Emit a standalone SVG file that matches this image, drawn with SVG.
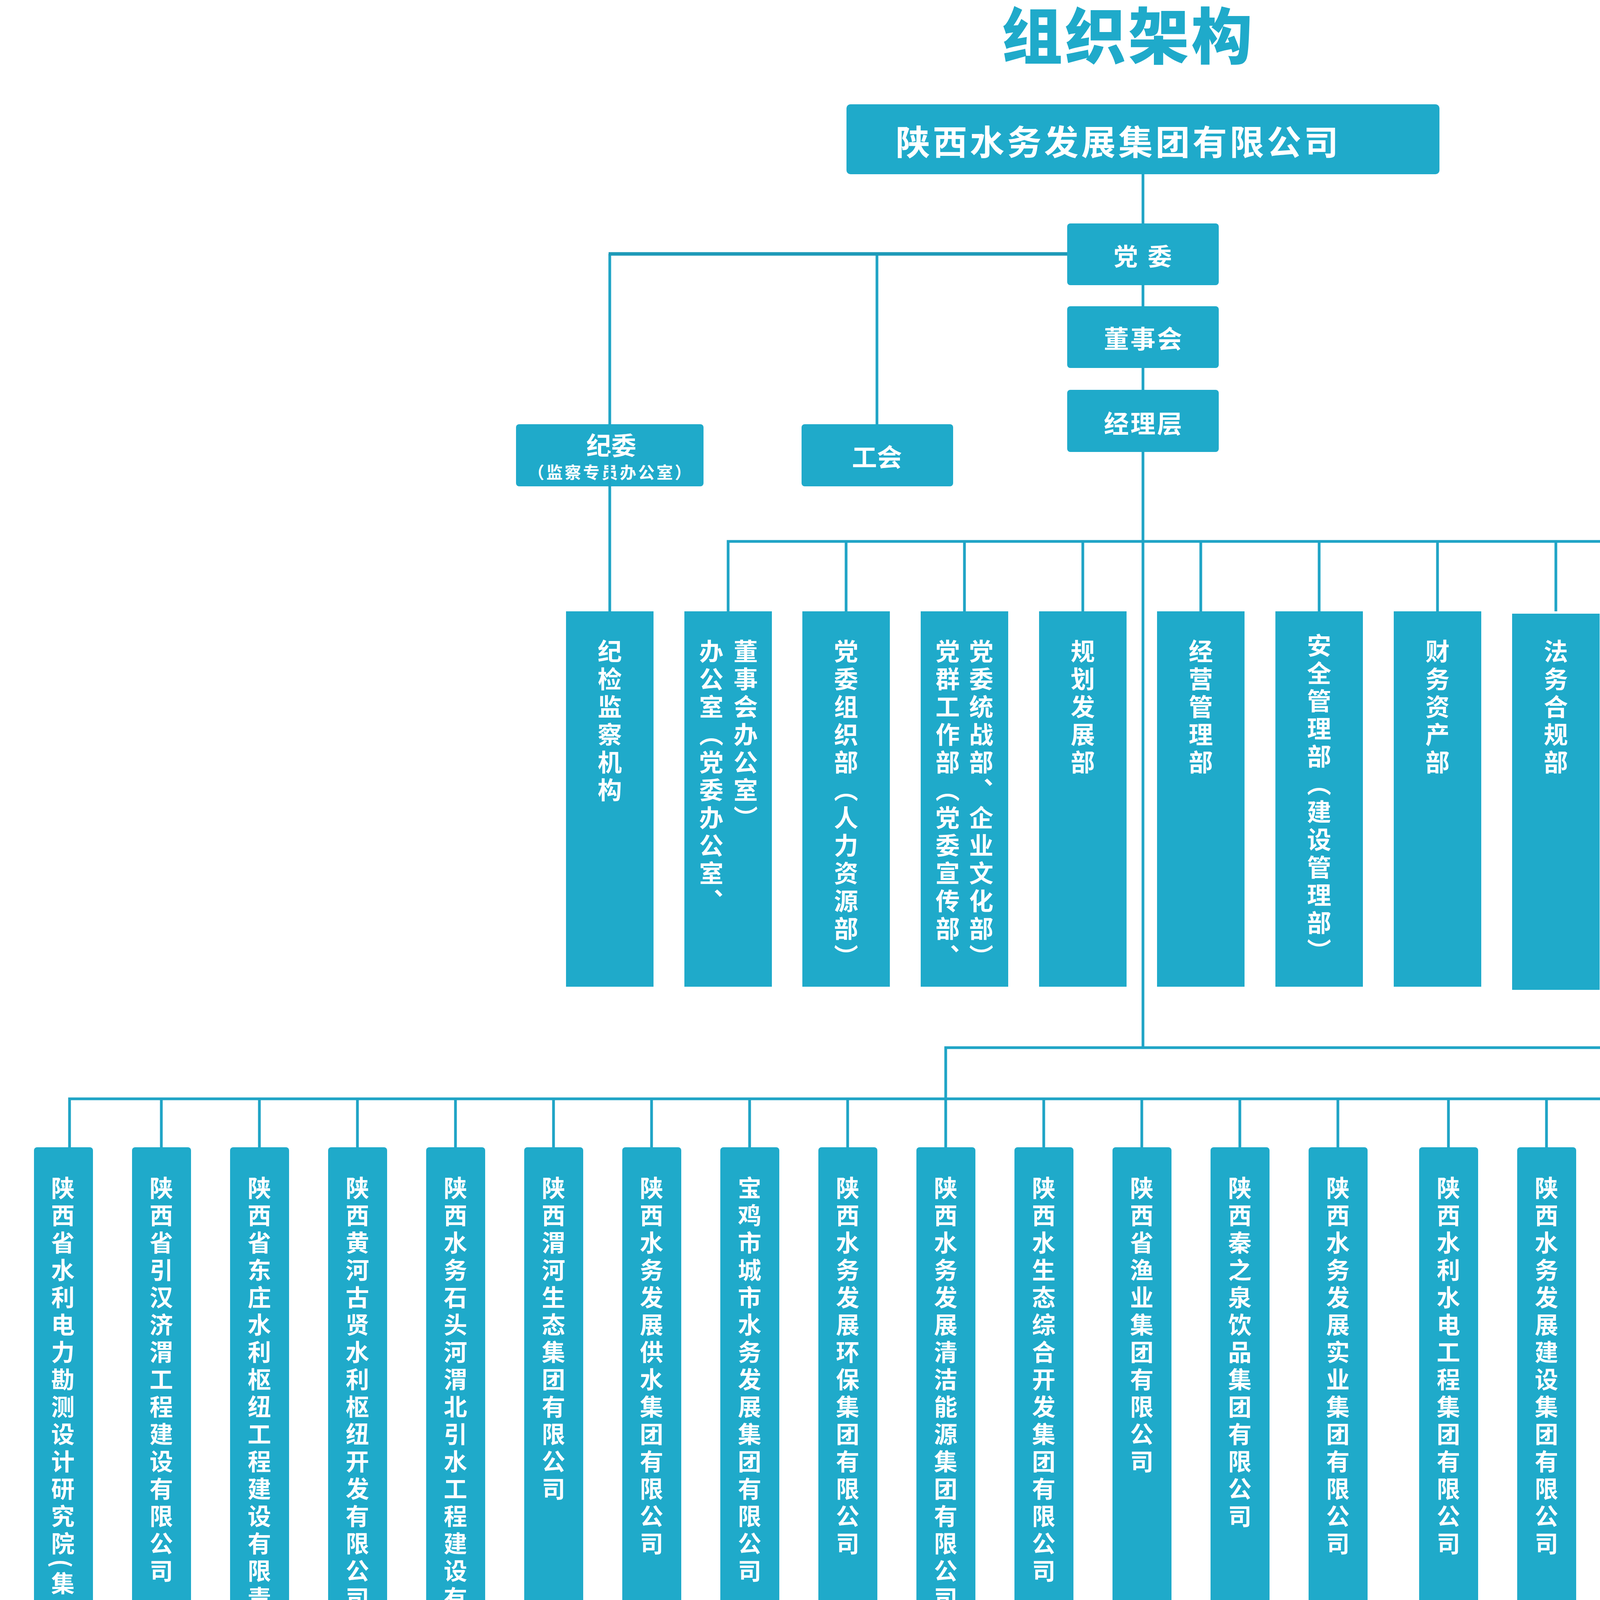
<svg xmlns="http://www.w3.org/2000/svg" width="6041" height="4724" viewBox="0 0 6041 4724">
<style>
.bx{fill:#1faaca}
.t{font-family:"Noto Sans CJK SC","Noto Sans",sans-serif;fill:#fff;font-weight:700}
.h{text-anchor:middle;dominant-baseline:central}
.v{writing-mode:vertical-rl;text-anchor:start}
.dp{font-size:62px;letter-spacing:9px}
.co{font-size:60px;letter-spacing:10px}
.br{font-size:61px;letter-spacing:10px;font-weight:500}
.pl{font-size:62px;letter-spacing:2px}
.ln{stroke:#1fa4c6;stroke-width:7;fill:none}
.bar{stroke:#1fa4c6;stroke-width:10;fill:none}
</style>
<text x="2888" y="150" text-anchor="middle" style="font-family:'Noto Sans CJK SC',sans-serif;font-weight:900;font-size:156px;letter-spacing:6px;fill:#1faaca">组织架构</text>

<g id="n-top"><rect class="bx" x="2167" y="267" width="1518" height="179" rx="10"/><text class="t" x="2293" y="357" style="font-size:88px;letter-spacing:7px;dominant-baseline:central">陕西水务发展集团有限公司</text></g>
<g id="n-dangwei"><rect class="bx" x="2732" y="572" width="388" height="158" rx="8"/><text class="t h" x="2938" y="653" style="font-size:62px;letter-spacing:25px">党委</text></g>
<g id="n-dongshihui"><rect class="bx" x="2732" y="784" width="388" height="158" rx="8"/><text class="t h" x="2928" y="863" style="font-size:64px;letter-spacing:4px">董事会</text></g>
<g id="n-jinglice"><rect class="bx" x="2732" y="998" width="388" height="159" rx="8"/><text class="t h" x="2928" y="1080" style="font-size:64px;letter-spacing:4px">经理层</text></g>
<g id="n-jiwei"><rect class="bx" x="1321" y="1086" width="480" height="159" rx="8"/><text class="t h" x="1565" y="1136" style="font-size:64px">纪委</text><text class="t h" x="1563" y="1206" style="font-size:42px;letter-spacing:5px">（监察专员办公室）</text></g>
<g id="n-gonghui"><rect class="bx" x="2052" y="1086" width="388" height="159" rx="8"/><text class="t h" x="2245" y="1166" style="font-size:64px">工会</text></g>

<g id="n-d1"><rect class="bx" x="1449" y="1565" width="224" height="961"/><text class="t v dp" x="1561" y="1636">纪检监察机构</text></g>
<g id="n-d2"><rect class="bx" x="1752" y="1565" width="224" height="961"/><text class="t v dp" x="1821" y="1636">办公室（党委办公室、</text><text class="t v dp" x="1909" y="1636">董事会办公室）</text></g>
<g id="n-d3"><rect class="bx" x="2054" y="1565" width="224" height="961"/><text class="t v dp" x="2166" y="1636">党委组织部（人力资源部）</text></g>
<g id="n-d4"><rect class="bx" x="2357" y="1565" width="224" height="961"/><text class="t v dp" x="2426" y="1636">党群工作部（党委宣传部、</text><text class="t v dp" x="2512" y="1636">党委统战部、企业文化部）</text></g>
<g id="n-d5"><rect class="bx" x="2660" y="1565" width="224" height="961"/><text class="t v dp" x="2772" y="1636">规划发展部</text></g>
<g id="n-d6"><rect class="bx" x="2962" y="1565" width="224" height="961"/><text class="t v dp" x="3074" y="1636">经营管理部</text></g>
<g id="n-d7"><rect class="bx" x="3265" y="1565" width="224" height="961"/><text class="t v dp" x="3377" y="1621">安全管理部（建设管理部）</text></g>
<g id="n-d8"><rect class="bx" x="3568" y="1565" width="224" height="961"/><text class="t v dp" x="3680" y="1636">财务资产部</text></g>
<g id="n-d9"><rect class="bx" x="3871" y="1571" width="224" height="963"/><text class="t v dp" x="3983" y="1636">法务合规部</text></g>
<g id="n-d10"><rect class="bx" x="4173" y="1565" width="224" height="961"/><text class="t v dp" x="4285" y="1636">审计监督部</text></g>
<g id="n-d11"><rect class="bx" x="4476" y="1565" width="224" height="961"/><text class="t v dp" x="4588" y="1636">科技创新部</text></g>

<g id="n-c1"><rect class="bx" x="87" y="2937" width="151" height="1539" rx="8"/><text class="t v co" x="161" y="3011">陕西省水利电力勘测设计研究院(集团)有限公司</text></g>
<g id="n-c2"><rect class="bx" x="338" y="2937" width="151" height="1539" rx="8"/><text class="t v co" x="413" y="3011">陕西省引汉济渭工程建设有限公司</text></g>
<g id="n-c3"><rect class="bx" x="589" y="2937" width="151" height="1539" rx="8"/><text class="t v co" x="664" y="3011">陕西省东庄水利枢纽工程建设有限责任公司</text></g>
<g id="n-c4"><rect class="bx" x="840" y="2937" width="151" height="1539" rx="8"/><text class="t v co" x="915" y="3011">陕西黄河古贤水利枢纽开发有限公司</text></g>
<g id="n-c5"><rect class="bx" x="1091" y="2937" width="151" height="1539" rx="8"/><text class="t v co" x="1166" y="3011">陕西水务石头河渭北引水工程建设有限公司</text></g>
<g id="n-c6"><rect class="bx" x="1342" y="2937" width="151" height="1539" rx="8"/><text class="t v co" x="1417" y="3011">陕西渭河生态集团有限公司</text></g>
<g id="n-c7"><rect class="bx" x="1593" y="2937" width="151" height="1539" rx="8"/><text class="t v co" x="1668" y="3011">陕西水务发展供水集团有限公司</text></g>
<g id="n-c8"><rect class="bx" x="1844" y="2937" width="151" height="1539" rx="8"/><text class="t v co" x="1919" y="3011">宝鸡市城市水务发展集团有限公司</text></g>
<g id="n-c9"><rect class="bx" x="2095" y="2937" width="151" height="1539" rx="8"/><text class="t v co" x="2170" y="3011">陕西水务发展环保集团有限公司</text></g>
<g id="n-c10"><rect class="bx" x="2346" y="2937" width="151" height="1539" rx="8"/><text class="t v co" x="2421" y="3011">陕西水务发展清洁能源集团有限公司</text></g>
<g id="n-c11"><rect class="bx" x="2597" y="2937" width="151" height="1539" rx="8"/><text class="t v co" x="2672" y="3011">陕西水生态综合开发集团有限公司</text></g>
<g id="n-c12"><rect class="bx" x="2848" y="2937" width="151" height="1539" rx="8"/><text class="t v co" x="2923" y="3011">陕西省渔业集团有限公司</text></g>
<g id="n-c13"><rect class="bx" x="3099" y="2937" width="151" height="1539" rx="8"/><text class="t v co" x="3174" y="3011">陕西秦之泉饮品集团有限公司</text></g>
<g id="n-c14"><rect class="bx" x="3350" y="2937" width="151" height="1539" rx="8"/><text class="t v co" x="3425" y="3011">陕西水务发展实业集团有限公司</text></g>
<g id="n-c15"><rect class="bx" x="3633" y="2937" width="151" height="1539" rx="8"/><text class="t v co" x="3708" y="3011">陕西水利水电工程集团有限公司</text></g>
<g id="n-c16"><rect class="bx" x="3884" y="2937" width="151" height="1539" rx="8"/><text class="t v co" x="3959" y="3011">陕西水务发展建设集团有限公司</text></g>
<g id="n-c17"><rect class="bx" x="4135" y="2937" width="151" height="1539" rx="8"/><text class="t v co" x="4210" y="3011">陕西水务发展华泽智汇装备集团股份有限公司</text></g>
<g id="n-c18"><rect class="bx" x="4386" y="2937" width="151" height="1539" rx="8"/><text class="t v co" x="4461" y="3011">陕西水务发展科技集团有限公司</text></g>
<g id="n-c19"><rect class="bx" x="4637" y="2937" width="151" height="1539" rx="8"/><text class="t v co" x="4712" y="3011">陕西水务发展投资集团有限公司</text></g>
<g id="n-b1"><rect class="bx" x="4885" y="2937" width="151" height="1539" rx="8"/><text class="t v br" x="4960" y="3010">延安分公司</text></g>
<g id="n-b2"><rect class="bx" x="5136" y="2937" width="151" height="1539" rx="8"/><text class="t v br" x="5211" y="3010">榆林分公司</text></g>
<g id="n-b3"><rect class="bx" x="5387" y="2937" width="151" height="1539" rx="8"/><text class="t v br" x="5462" y="3010">汉中分公司</text></g>
<g id="n-b4"><rect class="bx" x="5638" y="2937" width="151" height="1539" rx="8"/><text class="t v br" x="5713" y="3010">安康分公司</text></g>
<g id="n-b5"><rect class="bx" x="5889" y="2937" width="151" height="1539" rx="8"/><text class="t v br" x="5964" y="3010">商洛分公司</text></g>

<g id="n-g1"><rect x="0" y="4625" width="320" height="112" rx="32" fill="#4ec4e1"/><text class="t h pl" x="163" y="4675">设计咨询</text></g>
<g id="n-g2"><rect x="631" y="4625" width="320" height="112" rx="32" fill="#0ca5ce"/><text class="t h pl" x="792" y="4675">项目管理</text></g>
<g id="n-g3"><rect x="2262" y="4625" width="320" height="112" rx="32" fill="#3e92e8"/><text class="t h pl" x="2423" y="4675">运营服务</text></g>
<g id="n-g4"><rect x="3673" y="4625" width="322" height="112" rx="32" fill="#0aad9c"/><text class="t h pl" x="3835" y="4675">工程建设</text></g>
<g id="n-g5"><rect x="4177" y="4625" width="322" height="112" rx="32" fill="#1e9ab9"/><text class="t h pl" x="4339" y="4675">科技装备</text></g>
<g id="n-g6"><rect x="4553" y="4625" width="322" height="112" rx="32" fill="#06c5f0"/><text class="t h pl" x="4715" y="4675">投融资</text></g>
<g id="n-g7"><rect x="5266" y="4625" width="392" height="112" rx="32" fill="#34689b"/><text class="t h pl" x="5463" y="4675">派出机构</text></g>

<g id="connectors">
<path class="ln" d="M2926 446V572M2926 730V784M2926 942V998M2926 1157V2682"/>
<path class="ln" d="M1561 650V1086M2245 650V1086M1561 1245V1565M1561 1160V1245"/>
<path d="M1558 650H2732" stroke="#1e9ab8" stroke-width="9" fill="none"/>
<path class="ln" d="M1864 1565V1386H4588V1565M2166 1386V1565M2469 1386V1565M2772 1386V1565M3074 1386V1565M3377 1386V1565M3680 1386V1565M3983 1386V1565M4285 1386V1565"/>
<path class="ln" d="M2421 2937V2682H5462V2937"/>
<path class="ln" d="M178 2937V2813H4712V2937M413 2813V2937M664 2813V2937M915 2813V2937M1166 2813V2937M1417 2813V2937M1668 2813V2937M1919 2813V2937M2170 2813V2937M2672 2813V2937M2923 2813V2937M3174 2813V2937M3425 2813V2937M3708 2813V2937M3959 2813V2937M4210 2813V2937M4461 2813V2937"/>
<path class="ln" d="M4960 2937V2813H5964V2937M5211 2813V2937M5713 2813V2937"/>
<path class="ln" d="M162 4476V4625M413 4476V4573M664 4476V4573M915 4476V4573M1166 4476V4573M791 4573V4625M1417 4476V4573M1668 4476V4573M1919 4476V4573M2170 4476V4573M2421 4476V4625M2672 4476V4573M2923 4476V4573M3174 4476V4573M3425 4476V4573M3708 4476V4573M3959 4476V4573M3834 4573V4625M4210 4476V4573M4461 4476V4573M4336 4573V4625M4712 4476V4625M4960 4476V4573M5211 4476V4573M5462 4476V4625M5713 4476V4573M5964 4476V4573"/>
<path class="bar" d="M409 4573H1170M1413 4573H3429M3704 4573H3963M4206 4573H4465M4956 4573H5968"/>
</g>
</svg>
